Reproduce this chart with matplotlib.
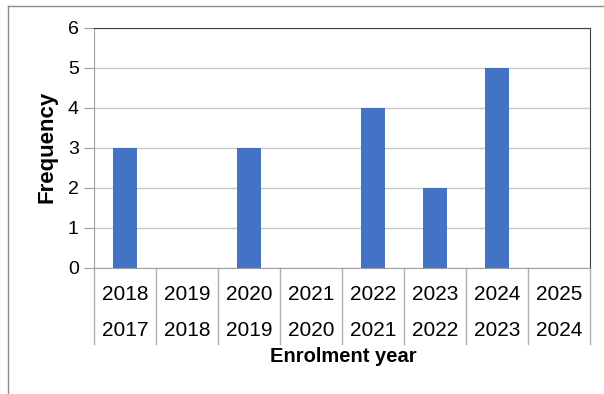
import matplotlib
matplotlib.use("Agg")
import matplotlib.pyplot as plt
from matplotlib.lines import Line2D
import numpy as np

plt.rcParams['font.family'] = ['Liberation Sans', 'DejaVu Sans']

# data
upper_labels = ['2018', '2019', '2020', '2021', '2022', '2023', '2024', '2025']
lower_labels = ['2017', '2018', '2019', '2020', '2021', '2022', '2023', '2024']
frequency = [3, 0, 3, 0, 4, 2, 5, 0]

W, H = 604, 394
fig = plt.figure(figsize=(W / 100, H / 100), dpi=100)
ax = fig.add_axes([94 / W, (H - 268) / H, (590 - 94) / W, 240 / H])

x = np.arange(len(frequency))
ax.bar(x, frequency, width=0.4, color='#4472C4', zorder=3)

ax.set_xlim(-0.5, len(frequency) - 0.5)
ax.set_ylim(0, 6)
ax.set_yticks(range(0, 7))
ax.yaxis.grid(True, color='#c8c8c8', linewidth=1, zorder=0)
ax.tick_params(axis='y', length=7, color='#a0a0a0', labelsize=14, pad=4)
ax.set_xticks([])

for side in ['left', 'bottom']:
    ax.spines[side].set_color('#a0a0a0')
for side in ['top', 'right']:
    ax.spines[side].set_color('#404040')

# two-level category axis
trans = ax.get_xaxis_transform()
sep_bottom = -76 / 240
for b in np.arange(-0.5, len(frequency), 1.0):
    ax.plot([b, b], [0, sep_bottom], transform=trans, color='#b0b0b0',
            linewidth=1, clip_on=False)
for i in range(len(frequency)):
    ax.text(i, -27 / 240, upper_labels[i], transform=trans, ha='center',
            va='center', fontsize=15)
    ax.text(i, -63 / 240, lower_labels[i], transform=trans, ha='center',
            va='center', fontsize=15)

fig.text(343 / W, 1 - 357 / H, 'Enrolment year', ha='center', va='center',
         fontsize=14.5, fontweight='bold')
fig.text(47 / W, 1 - 147 / H, 'Frequency', ha='center', va='center',
         fontsize=16, fontweight='bold', rotation=90)

# outer chart border
fig.add_artist(Line2D([8 / W, 1], [1 - 6 / H, 1 - 6 / H], color='#8c8c8c', linewidth=1))
fig.add_artist(Line2D([8 / W, 8 / W], [0, 1 - 6 / H], color='#8c8c8c', linewidth=1))

fig.savefig('out.png', dpi=100)
